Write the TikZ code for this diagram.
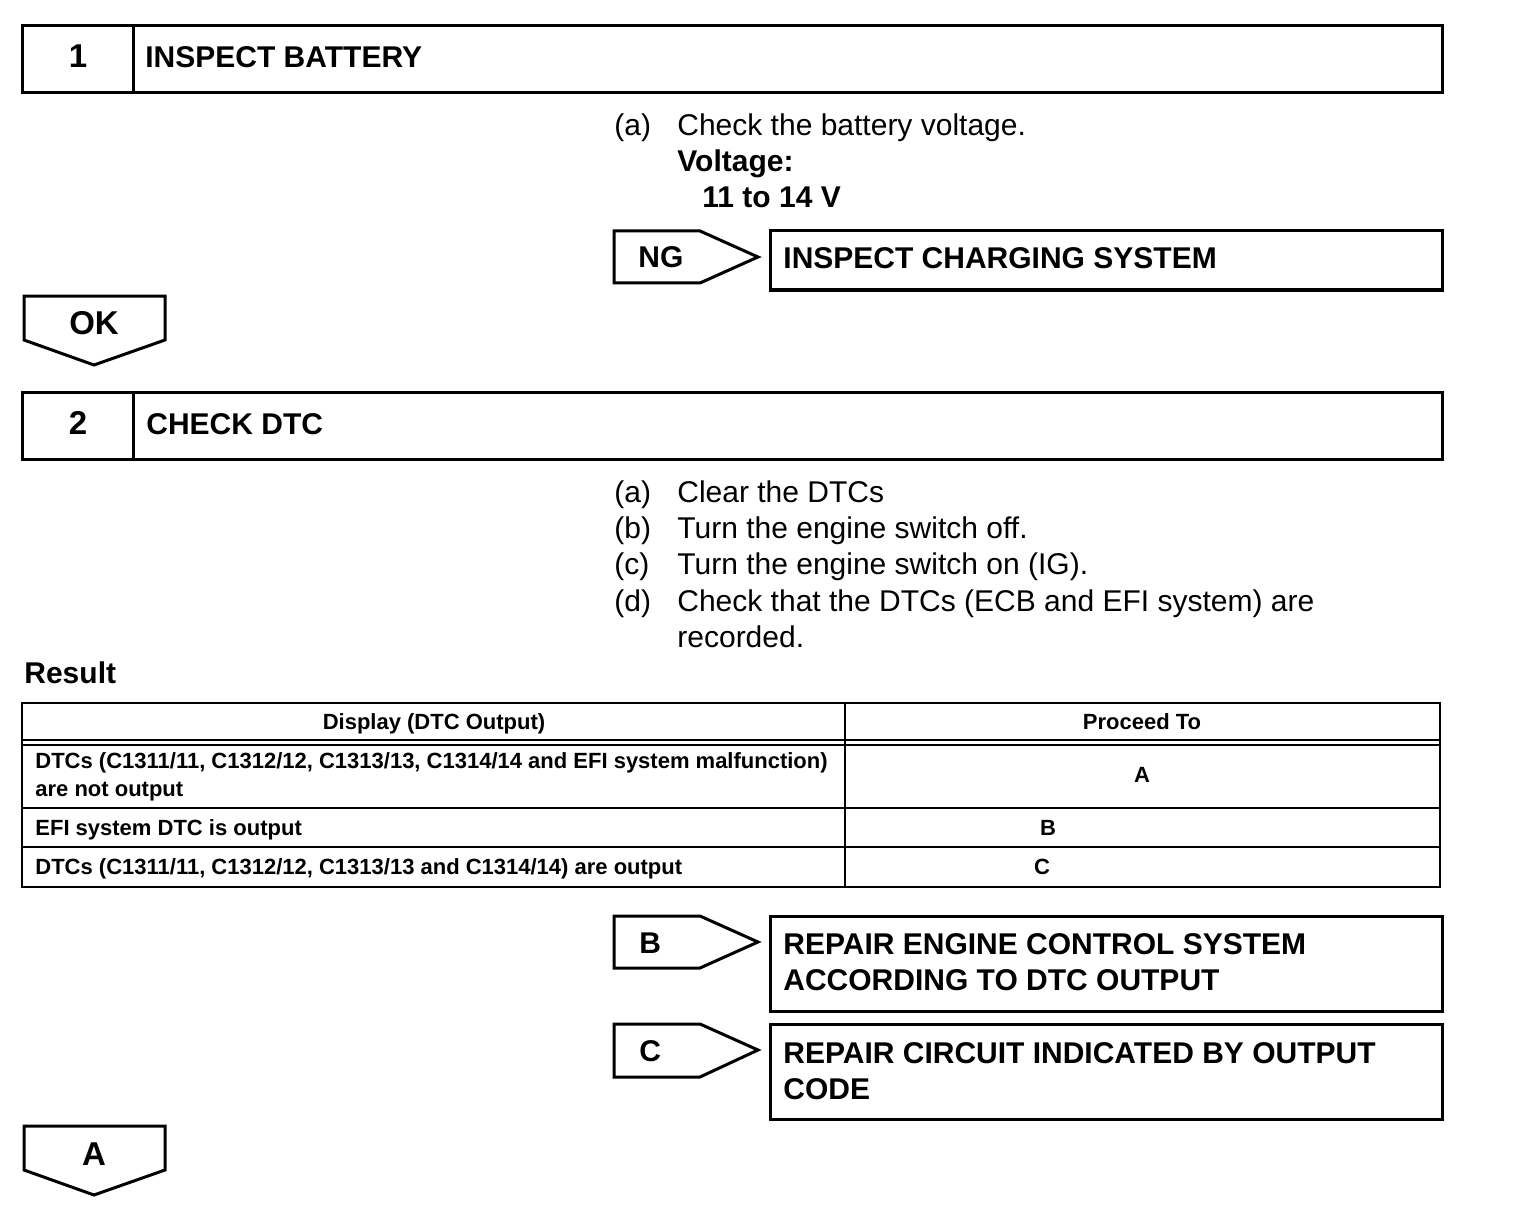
\documentclass[tikz,border=0pt]{standalone}
\usepackage{fontspec}
\setmainfont{Liberation Sans}
\usetikzlibrary{positioning}

\begin{document}
\begin{tikzpicture}[x=0.5pt,y=-0.5pt,
  box/.style={draw,line width=1.5pt,line join=miter},
  flag/.style={draw,line width=1.5pt,line join=miter},
  hd/.style={font=\fontsize{15}{18}\selectfont\bfseries,inner sep=0pt,anchor=base west},
  num/.style={font=\fontsize{16.5}{18}\selectfont\bfseries,inner sep=0pt,anchor=base},
  txt/.style={font=\fontsize{15}{18}\selectfont,inner sep=0pt,anchor=base west},
  tb/.style={font=\fontsize{11}{13}\selectfont\bfseries,inner sep=0pt,anchor=base west},
  tbc/.style={font=\fontsize{11}{13}\selectfont\bfseries,inner sep=0pt,anchor=base},
  grid/.style={line width=1pt}
]
\useasboundingbox (0,0) rectangle (1536,1230);

% step 1
\draw[box] (22,26) rectangle (1442,93) (133,26) -- (133,93);
\node[num](n1) at (78,68) {1};
\node[hd](t1) at (145,68) {INSPECT BATTERY};
\node[txt](a1) at (614,136) {(a)};
\node[txt](a1t) at (677,136) {Check the battery voltage.};
\node[hd](volt) at (677,172) {Voltage:};
\node[hd](vval) at (702,208) {11 to 14 V};

% NG branch
\draw[flag] (614,231) -- (700,231) -- (758,257) -- (700,283) -- (614,283) -- cycle;
\node[hd](ng) at (638,268) {NG};
\draw[box] (770,231) rectangle (1442,290);
\node[hd](chg) at (783,269) {INSPECT CHARGING SYSTEM};

% OK
\draw[flag] (24,296) -- (165,296) -- (165,340) -- (94,365) -- (24,340) -- cycle;
\node[num](ok) at (94,335) {OK};

% step 2
\draw[box] (22,392) rectangle (1442,459) (133,392) -- (133,459);
\node[num](n2) at (78,434) {2};
\node[hd](t2) at (146,434) {CHECK DTC};
\node[txt](a2) at (614,502) {(a)};
\node[txt](a2t) at (677,502) {Clear the DTCs};
\node[txt](b2) at (614,538) {(b)};
\node[txt](b2t) at (677,538) {Turn the engine switch off.};
\node[txt](c2) at (614,574) {(c)};
\node[txt](c2t) at (677,574) {Turn the engine switch on (IG).};
\node[txt](d2) at (614,611) {(d)};
\node[txt](d2t) at (677,611) {Check that the DTCs (ECB and EFI system) are};
\node[txt](d2u) at (677,647) {recorded.};

% result table
\node[hd](res) at (24,683) {Result};
\draw[grid] (22,703) rectangle (1440,887);
\draw[grid] (845,703) -- (845,887);
\draw[grid] (22,740) -- (1440,740) (22,745) -- (1440,745);
\draw[grid] (22,808) -- (1440,808) (22,847) -- (1440,847);
\node[tbc](hdisp) at (434,729) {Display (DTC Output)};
\node[tbc](hproc) at (1142,729) {Proceed To};
\node[tb](r1) at (35,768) {DTCs (C1311/11, C1312/12, C1313/13, C1314/14 and EFI system malfunction)};
\node[tb](r1b) at (35,796) {are not output};
\node[tb](r2) at (35,835) {EFI system DTC is output};
\node[tb](r3) at (35,874) {DTCs (C1311/11, C1312/12, C1313/13 and C1314/14) are output};
\node[tbc](pa) at (1142,782) {A};
\node[tbc](pb) at (1048,835) {B};
\node[tbc](pc) at (1042,874) {C};

% B branch
\draw[flag] (614,916) -- (700,916) -- (758,942) -- (700,968) -- (614,968) -- cycle;
\node[hd](fb) at (639,953) {B};
\draw[box] (770,916) rectangle (1442,1011);
\node[hd](rb1) at (783,954) {REPAIR ENGINE CONTROL SYSTEM};
\node[hd](rb2) at (783,990) {ACCORDING TO DTC OUTPUT};

% C branch
\draw[flag] (614,1024) -- (700,1024) -- (758,1050) -- (700,1077) -- (614,1077) -- cycle;
\node[hd](fc) at (639,1061) {C};
\draw[box] (770,1024) rectangle (1442,1119);
\node[hd](rc1) at (783,1063) {REPAIR CIRCUIT INDICATED BY OUTPUT};
\node[hd](rc2) at (783,1099) {CODE};

% A
\draw[flag] (24,1126) -- (165,1126) -- (165,1170) -- (94,1195) -- (24,1170) -- cycle;
\node[num](fa) at (94,1165) {A};
\end{tikzpicture}
\end{document}
